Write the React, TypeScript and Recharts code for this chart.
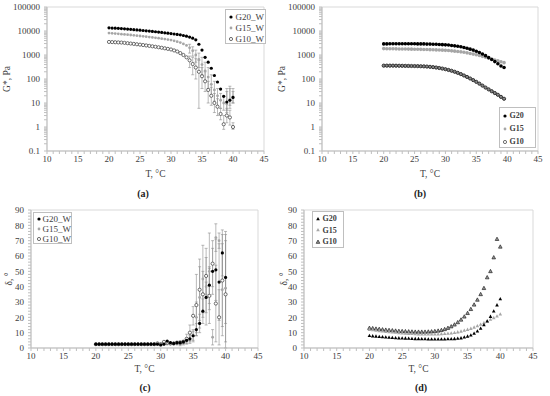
import React from 'react'
import { ScatterChart, Scatter, XAxis, YAxis, ErrorBar, ReferenceArea } from 'recharts'

const FONT = "'Liberation Serif', 'DejaVu Serif', serif"
const GRID = '#bfbfbf'
const FRAME = '#d9d9d9'
const TEXT = '#404040'

// temperature grid, °C
const temps = [
  20, 20.5, 21, 21.5, 22, 22.5, 23, 23.5, 24, 24.5, 25, 25.5, 26, 26.5, 27, 27.5, 28, 28.5, 29, 29.5,
  30, 30.5, 31, 31.5, 32, 32.5, 33, 33.5, 34, 34.5, 35, 35.5, 36, 36.5, 37, 37.5, 38, 38.5, 39, 39.5, 40,
]
// points that carry error bars
const tailTemps = [33, 33.5, 34, 34.5, 35, 35.5, 36, 36.5, 37, 37.5, 38, 38.5, 39, 39.5, 40]

const xTicks = [
  10, 11, 12, 13, 14, 15, 16, 17, 18, 19, 20, 21, 22, 23, 24, 25, 26, 27, 28, 29, 30,
  31, 32, 33, 34, 35, 36, 37, 38, 39, 40, 41, 42, 43, 44, 45,
]
const logTicks = [0.1, 1, 10, 100, 1000, 10000, 100000]
const deltaTicks = [0, 10, 20, 30, 40, 50, 60, 70, 80, 90]

// (a) G*, Pa  – with water
const g20A = [13500, 13300, 13100, 12900, 12600, 12300, 12000, 11700, 11400, 11100, 10800, 10500, 10200, 9900, 9600, 9300, 9000, 8700, 8400, 8100, 7800, 7500, 7200, 6900, 6500, 6100, 5600, 5000, 4300, 2800, 1600, 800, 500, 280, 140, 75, 38, 19, 11, 13, 17]
const g15A = [8200, 8000, 7800, 7600, 7400, 7200, 7000, 6800, 6600, 6400, 6200, 6000, 5800, 5600, 5400, 5200, 5000, 4800, 4600, 4400, 4200, 3900, 3600, 3300, 2900, 2500, 2000, 1500, 1000, 650, 400, 220, 120, 60, 35, 20, 13, 10, 9, 14, 18]
const g10A = [3500, 3450, 3400, 3350, 3300, 3200, 3100, 3000, 2900, 2800, 2700, 2600, 2500, 2400, 2300, 2200, 2100, 2000, 1900, 1800, 1700, 1550, 1400, 1200, 1000, 800, 600, 420, 300, 200, 130, 80, 35, 20, 10, 7, 3.5, 1.3, 3, 2.5, 1]
// error bounds [low, high] at tailTemps
const g20ABounds = [null, null, null, null, null, null, null, null, null, null, null, null, [5, 30], [8, 40], [10, 30]]
const g15ABounds = [[1200, 2800], [900, 2200], [500, 1600], [300, 1200], [150, 800], [80, 500], [40, 300], [20, 150], [12, 80], [8, 40], [6, 25], [5, 20], [4, 40], [6, 50], [10, 40]]
const g10ABounds = [[300, 900], [150, 800], [100, 700], [6, 600], [40, 300], [30, 200], [10, 80], [8, 45], [4, 25], [3, 15], [2, 6], [0.8, 3], [1.5, 6], [1.2, 5], [0.8, 1.5]]

// (b) G*, Pa
const g20B = [2900, 2900, 2950, 2950, 2950, 2950, 2950, 2950, 2950, 2950, 2950, 2900, 2900, 2900, 2850, 2850, 2800, 2800, 2750, 2700, 2650, 2600, 2500, 2400, 2300, 2200, 2050, 1900, 1750, 1600, 1430, 1270, 1100, 940, 780, 650, 530, 430, 350, 300]
const g15B = [1850, 1830, 1820, 1810, 1800, 1790, 1780, 1770, 1760, 1750, 1740, 1730, 1720, 1700, 1690, 1670, 1650, 1630, 1610, 1590, 1560, 1530, 1490, 1450, 1400, 1350, 1300, 1230, 1160, 1090, 1020, 950, 880, 810, 740, 680, 620, 570, 520, 480]
const g10B = [360, 360, 360, 360, 358, 356, 354, 352, 350, 348, 346, 344, 340, 336, 330, 322, 312, 300, 287, 272, 256, 238, 220, 200, 180, 160, 140, 122, 105, 90, 76, 64, 53, 44, 37, 31, 26, 22, 18, 15]

// (c) δ, °  – with water
const g20C = [2.5, 2.5, 2.5, 2.5, 2.5, 2.5, 2.5, 2.5, 2.5, 2.5, 2.5, 2.5, 2.5, 2.5, 2.5, 2.5, 2.5, 2.5, 2.5, 2.5, 2, 2.5, 4.5, 3.5, 3, 3.5, 3.5, 4, 5, 6, 8, 12, 16, 24, 33, 41, 50, 51, 43, 62, 46]
const g15C = [2.5, 2.5, 2.5, 2.5, 2.5, 2.5, 2.5, 2.5, 2.5, 2.5, 2.5, 2.5, 2.5, 2.5, 2.5, 2.5, 2.5, 2.5, 2.5, 2.5, 2.5, 2.5, 2.5, 2.5, 2.5, 2.5, 2.5, 3, 4.5, 6, 8, 20, 33, 45, 40, 50, 7, 72, 70, 38, 39]
const g10C = [2.5, 2.5, 2.5, 2.5, 2.5, 2.5, 2.5, 2.5, 2.5, 2.5, 2.5, 2.5, 2.5, 2.5, 2.5, 2.5, 2.5, 2.5, 2.5, 3, 2.5, 4, 3.5, 3, 3, 3.5, 3.5, 4, 6, 10, 21, 28, 38, 35, 47, 34, 55, 29, 20, 44, 35]
// symmetric errors at tailTemps
const g20CErr = [1, 1, 1, 2, 3, 4, 6, 8, 10, 12, 15, 20, 25, 15, 30]
const g15CErr = [1, 1, 2, 3, 4, 10, 20, 22, 25, 25, 5, 9, 5, 30, 35]
const g10CErr = [1, 1, 3, 5, 6, 20, 20, 15, 12, 18, 15, 25, 18, 30, 35]

// (d) δ, °
const g20D = [8, 7.8, 7.6, 7.4, 7.2, 7, 6.9, 6.7, 6.6, 6.5, 6.4, 6.3, 6.2, 6.1, 6, 6, 5.9, 5.9, 5.8, 5.8, 5.8, 5.8, 5.8, 5.8, 5.9, 5.9, 6, 6.2, 6.5, 7, 7.6, 8.4, 9.5, 11, 12.8, 15, 17.5, 20.5, 24, 28, 32]
const g15D = [12, 11.8, 11.5, 11.2, 11, 10.7, 10.5, 10.3, 10.1, 9.9, 9.7, 9.5, 9.4, 9.3, 9.2, 9.1, 9, 9, 9, 9, 9, 9.1, 9.2, 9.3, 9.5, 9.7, 10, 10.4, 10.9, 11.4, 12, 12.7, 13.5, 14.4, 15.4, 16.4, 17.5, 18.6, 19.7, 20.8, 22]
const g10D = [13, 12.8, 12.5, 12.3, 12, 11.8, 11.6, 11.4, 11.2, 11, 10.9, 10.8, 10.7, 10.6, 10.5, 10.5, 10.5, 10.5, 10.6, 10.7, 10.9, 11.2, 11.6, 12.2, 13, 14, 15.2, 16.7, 18.4, 20.4, 22.7, 25.3, 28.2, 31.4, 35, 39, 46, 50, 59, 71, 66]

const logMinor = logTicks.slice(0, -1).flatMap((d) => [2, 3, 4, 5, 6, 7, 8, 9].map((m) => d * m))
const deltaMinor = Array.from({ length: 46 }, (_, i) => i * 2)

const pts = (ys: number[]) => ys.map((y, i) => ({ x: temps[i], y }))
const errAbs = (ys: number[], bounds: any[]) =>
  tailTemps
    .map((x, i) => {
      const y = ys[temps.indexOf(x)]
      const b = bounds[i]
      return b ? { x, y, err: [y - b[0], b[1] - y] } : null
    })
    .filter(Boolean)
const errSym = (ys: number[], errs: number[]) =>
  tailTemps.map((x, i) => ({ x, y: ys[temps.indexOf(x)], err: errs[i] }))

// marker shapes
const dot = (fill: string, stroke = 'none', r = 1.6, sw = 0.8) => (p: any) => (
  <circle cx={p.cx} cy={p.cy} r={r} fill={fill} stroke={stroke} strokeWidth={sw} />
)
const tri = (fill: string, stroke = 'none', s = 1.8) => (p: any) => (
  <path
    d={`M${p.cx},${p.cy - s * 1.1}L${p.cx + s},${p.cy + s * 0.75}L${p.cx - s},${p.cy + s * 0.75}Z`}
    fill={fill}
    stroke={stroke}
    strokeWidth={0.7}
  />
)
const none = () => <g />

const blackDot = dot('#000')
const greyDot = dot('#a6a6a6', 'none', 1.4)
const openDot = dot('#fff', '#333', 1.6, 0.7)
const bandDot = dot('#888', '#222', 1.6, 0.9)
const blackTri = tri('#000')
const greyTri = tri('#a6a6a6')
const openTri = tri('#999', '#222')

const tick = { fontSize: 9, fill: TEXT, fontFamily: FONT }
const titleProps = { fontSize: 9.5, fill: TEXT, fontFamily: FONT }

function renderX(labelOffset: number, height: number) {
  return (
    <XAxis
      type="number"
      dataKey="x"
      domain={[10, 45]}
      ticks={xTicks}
      interval={0}
      allowDataOverflow
      height={height}
      tickFormatter={(v: number) => (v % 5 === 0 ? String(v) : '')}
      tick={tick}
      tickSize={3}
      tickMargin={2}
      stroke={GRID}
      label={{ value: 'T, °C', position: 'insideBottom', offset: labelOffset, ...titleProps }}
    />
  )
}

function renderLogY(width: number) {
  return (
    <YAxis
      type="number"
      dataKey="y"
      scale="log"
      domain={[0.1, 100000]}
      ticks={[...logTicks, ...logMinor]}
      interval={0}
      allowDataOverflow
      width={width}
      tickFormatter={(v: number) => (logTicks.includes(v) ? String(v) : '')}
      tick={tick}
      tickSize={3}
      tickMargin={4}
      stroke={GRID}
      label={{ value: 'G*, Pa', angle: -90, position: 'insideLeft', offset: 7, style: { textAnchor: 'middle' }, ...titleProps }}
    />
  )
}

function renderDeltaY(width: number) {
  return (
    <YAxis
      type="number"
      dataKey="y"
      domain={[0, 90]}
      ticks={deltaMinor}
      interval={0}
      allowDataOverflow
      width={width}
      tickFormatter={(v: number) => (deltaTicks.includes(v) ? String(v) : '')}
      tick={tick}
      tickSize={3}
      tickMargin={4}
      stroke={GRID}
      label={{ value: 'δ, °', angle: -90, position: 'insideLeft', offset: 9, style: { textAnchor: 'middle' }, ...titleProps }}
    />
  )
}

function errBars(data: any[]) {
  return (
    <Scatter data={data} shape={none} isAnimationActive={false} legendType="none">
      <ErrorBar dataKey="err" direction="y" width={1.5} stroke="#8c8c8c" strokeWidth={0.6} isAnimationActive={false} />
    </Scatter>
  )
}

type Item = { label: string; shape: (p: any) => React.ReactElement }

function LegendBox(props: {
  left: number
  top: number
  width: number
  height: number
  lineHeight: number
  fontSize: number
  bold?: boolean
  items: Item[]
}) {
  const { left, top, width, height, lineHeight, fontSize, bold, items } = props
  return (
    <div
      style={{
        position: 'absolute',
        left,
        top,
        width,
        height,
        boxSizing: 'border-box',
        border: `1px solid ${GRID}`,
        background: '#fff',
        fontFamily: FONT,
        fontSize,
        fontWeight: bold ? 'bold' : 'normal',
        color: TEXT,
        padding: '1px 0 0 2px',
      }}
    >
      {items.map((it) => (
        <div key={it.label} style={{ height: lineHeight, display: 'flex', alignItems: 'center', whiteSpace: 'nowrap' }}>
          <svg width={6} height={6}>{it.shape({ cx: 3, cy: 3 })}</svg>
          <span style={{ marginLeft: 1.5 }}>{it.label}</span>
        </div>
      ))}
    </div>
  )
}

function Caption({ text, x, y }: { text: string; x: number; y: number }) {
  return (
    <div
      style={{
        position: 'absolute',
        left: x - 15,
        top: y - 7,
        width: 30,
        textAlign: 'center',
        fontFamily: FONT,
        fontSize: 10,
        fontWeight: 'bold',
        color: '#222',
        lineHeight: '14px',
      }}
    >
      {text}
    </div>
  )
}

function Frame({ y1, y2 }: { y1: number; y2: number }) {
  return <ReferenceArea x1={10} x2={45} y1={y1} y2={y2} fill="none" stroke={FRAME} strokeWidth={1} />
}

export default function App() {
  return (
    <div style={{ position: 'absolute', left: 0, top: 0, width: 550, height: 396, background: '#fff', fontFamily: FONT }}>
      {/* (a) */}
      <div style={{ position: 'absolute', left: 0, top: 0 }}>
        <ScatterChart width={275} height={198} margin={{ top: 7, right: 11, bottom: 0, left: 0 }}>
          {renderX(21, 47)}
          {renderLogY(47)}
          {Frame({ y1: 0.1, y2: 100000 })}
          {errBars(errAbs(g15A, g15ABounds))}
          {errBars(errAbs(g10A, g10ABounds))}
          {errBars(errAbs(g20A, g20ABounds))}
          <Scatter data={pts(g15A)} shape={greyDot} isAnimationActive={false} />
          <Scatter data={pts(g10A)} shape={openDot} isAnimationActive={false} />
          <Scatter data={pts(g20A)} shape={blackDot} isAnimationActive={false} />
        </ScatterChart>
      </div>
      <LegendBox
        left={225}
        top={9}
        width={41}
        height={35}
        lineHeight={11}
        fontSize={9}
        items={[
          { label: 'G20_W', shape: blackDot },
          { label: 'G15_W', shape: greyDot },
          { label: 'G10_W', shape: openDot },
        ]}
      />
      <Caption text="(a)" x={143} y={194} />

      {/* (b) */}
      <div style={{ position: 'absolute', left: 275, top: 0 }}>
        <ScatterChart width={275} height={198} margin={{ top: 7, right: 12, bottom: 0, left: 0 }}>
          {renderX(21, 47)}
          {renderLogY(47)}
          {Frame({ y1: 0.1, y2: 100000 })}
          <Scatter data={pts(g10B)} shape={bandDot} isAnimationActive={false} />
          <Scatter data={pts(g15B)} shape={dot('#a6a6a6', 'none', 1.8)} isAnimationActive={false} />
          <Scatter data={pts(g20B)} shape={dot('#000', 'none', 1.8)} isAnimationActive={false} />
        </ScatterChart>
      </div>
      <LegendBox
        left={499}
        top={107}
        width={37}
        height={41}
        lineHeight={13}
        fontSize={8}
        bold
        items={[
          { label: 'G20', shape: blackDot },
          { label: 'G15', shape: greyDot },
          { label: 'G10', shape: openDot },
        ]}
      />
      <Caption text="(b)" x={420} y={194} />

      {/* (c) */}
      <div style={{ position: 'absolute', left: 0, top: 198 }}>
        <ScatterChart width={275} height={198} margin={{ top: 12, right: 17, bottom: 0, left: 0 }}>
          {renderX(24, 48)}
          {renderDeltaY(31)}
          {Frame({ y1: 0, y2: 90 })}
          {errBars(errSym(g15C, g15CErr))}
          {errBars(errSym(g10C, g10CErr))}
          {errBars(errSym(g20C, g20CErr))}
          <Scatter data={pts(g15C)} shape={greyDot} isAnimationActive={false} />
          <Scatter data={pts(g10C)} shape={openDot} isAnimationActive={false} />
          <Scatter data={pts(g20C)} shape={blackDot} isAnimationActive={false} />
        </ScatterChart>
      </div>
      <LegendBox
        left={33}
        top={212}
        width={39}
        height={32}
        lineHeight={10}
        fontSize={9}
        items={[
          { label: 'G20_W', shape: blackDot },
          { label: 'G15_W', shape: greyDot },
          { label: 'G10_W', shape: openDot },
        ]}
      />
      <Caption text="(c)" x={145} y={388} />

      {/* (d) */}
      <div style={{ position: 'absolute', left: 275, top: 198 }}>
        <ScatterChart width={275} height={198} margin={{ top: 12, right: 17, bottom: 0, left: 0 }}>
          {renderX(24, 48)}
          {renderDeltaY(29)}
          {Frame({ y1: 0, y2: 90 })}
          <Scatter data={pts(g10D)} shape={openTri} isAnimationActive={false} />
          <Scatter data={pts(g15D)} shape={greyTri} isAnimationActive={false} />
          <Scatter data={pts(g20D)} shape={blackTri} isAnimationActive={false} />
        </ScatterChart>
      </div>
      <LegendBox
        left={312}
        top={211}
        width={32}
        height={37}
        lineHeight={11.5}
        fontSize={8}
        bold
        items={[
          { label: 'G20', shape: blackTri },
          { label: 'G15', shape: greyTri },
          { label: 'G10', shape: openTri },
        ]}
      />
      <Caption text="(d)" x={421} y={388} />
    </div>
  )
}
